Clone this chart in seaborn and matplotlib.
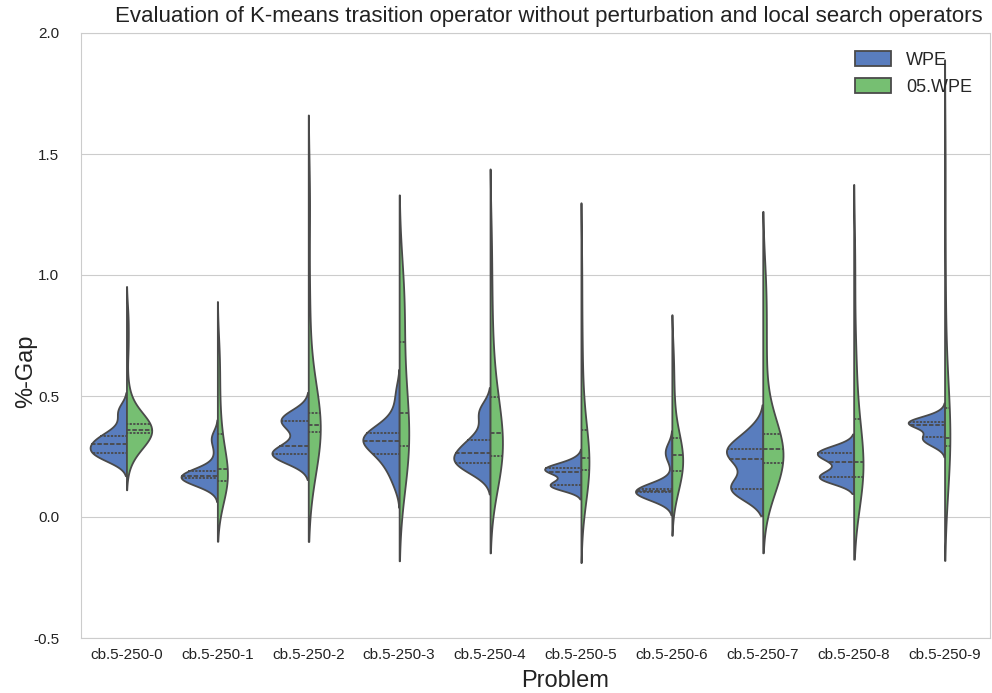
import numpy as np
import pandas as pd
import seaborn as sns
import matplotlib
matplotlib.use("Agg")
import matplotlib.pyplot as plt

problems = ["cb.5-250-0", "cb.5-250-1", "cb.5-250-2", "cb.5-250-3", "cb.5-250-4",
            "cb.5-250-5", "cb.5-250-6", "cb.5-250-7", "cb.5-250-8", "cb.5-250-9"]
methods = ["WPE", "05.WPE"]
colors = ["#4878CF", "#6ACC65"]

# %-Gap observations per problem, WPE runs
wpe_0 = [0.235, 0.242, 0.248, 0.253, 0.258, 0.262, 0.266, 0.272, 0.278, 0.285, 0.292, 0.298,
         0.304, 0.31, 0.316, 0.322, 0.328, 0.334, 0.34, 0.355, 0.38, 0.42, 0.44, 0.45]
wpe_1 = [0.125, 0.135, 0.145, 0.15, 0.155, 0.158, 0.161, 0.163, 0.164, 0.165, 0.166, 0.167,
         0.168, 0.17, 0.173, 0.177, 0.182, 0.188, 0.195, 0.21, 0.26, 0.31, 0.325, 0.34]
wpe_2 = [0.23, 0.245, 0.252, 0.256, 0.258, 0.26, 0.262, 0.264, 0.266, 0.268, 0.27, 0.275,
         0.31, 0.33, 0.36, 0.385, 0.393, 0.398, 0.40, 0.402, 0.405, 0.41, 0.42, 0.44]
wpe_3 = [0.13, 0.17, 0.2, 0.22, 0.24, 0.255, 0.262, 0.275, 0.295, 0.305, 0.31, 0.313,
         0.317, 0.322, 0.326, 0.33, 0.335, 0.345, 0.355, 0.365, 0.38, 0.40, 0.45, 0.52]
wpe_4 = [0.18, 0.195, 0.205, 0.212, 0.218, 0.222, 0.226, 0.232, 0.238, 0.245, 0.252, 0.26,
         0.27, 0.28, 0.29, 0.30, 0.31, 0.315, 0.33, 0.36, 0.41, 0.43, 0.44, 0.45]
wpe_5 = [0.115, 0.12, 0.125, 0.128, 0.13, 0.132, 0.134, 0.137, 0.14, 0.15, 0.17, 0.182,
         0.186, 0.19, 0.193, 0.196, 0.198, 0.2, 0.202, 0.205, 0.208, 0.215, 0.225, 0.24]
wpe_6 = [0.075, 0.085, 0.092, 0.097, 0.1, 0.101, 0.102, 0.103, 0.104, 0.105, 0.106, 0.107,
         0.108, 0.109, 0.11, 0.112, 0.114, 0.117, 0.12, 0.13, 0.24, 0.26, 0.275, 0.29]
wpe_7 = [0.1, 0.104, 0.108, 0.111, 0.113, 0.115, 0.118, 0.13, 0.15, 0.18, 0.21, 0.235,
         0.248, 0.255, 0.26, 0.265, 0.27, 0.278, 0.285, 0.295, 0.31, 0.33, 0.35, 0.37]
wpe_8 = [0.15, 0.155, 0.158, 0.161, 0.163, 0.164, 0.166, 0.168, 0.172, 0.18, 0.2, 0.22,
         0.232, 0.245, 0.252, 0.256, 0.26, 0.262, 0.265, 0.268, 0.272, 0.276, 0.282, 0.29]
wpe_9 = [0.29, 0.3, 0.31, 0.318, 0.322, 0.326, 0.33, 0.335, 0.345, 0.36, 0.37, 0.378,
         0.382, 0.385, 0.387, 0.389, 0.391, 0.393, 0.395, 0.397, 0.4, 0.405, 0.415, 0.43]

# %-Gap observations per problem, 05.WPE runs
wpe05_0 = [0.245, 0.28, 0.31, 0.33, 0.338, 0.344, 0.347, 0.35, 0.352, 0.354, 0.356, 0.358,
           0.36, 0.363, 0.367, 0.372, 0.378, 0.384, 0.39, 0.41, 0.45, 0.52, 0.7, 0.82]
wpe05_1 = [0.1, 0.11, 0.13, 0.14, 0.148, 0.158, 0.17, 0.182, 0.192,
           0.204, 0.22, 0.26, 0.32, 0.353, 0.42, 0.52, 0.62, 0.69]
wpe05_2 = [0.26, 0.3, 0.345, 0.352, 0.362, 0.376, 0.384, 0.4, 0.42, 0.452, 0.85, 1.3]
wpe05_3 = [0.15, 0.18, 0.24, 0.285, 0.32, 0.37, 0.41, 0.446, 0.52, 0.62, 0.76, 0.84, 0.92, 1.0]
wpe05_4 = [0.14, 0.17, 0.18, 0.205, 0.228, 0.252, 0.268, 0.285, 0.305, 0.325, 0.348,
           0.37, 0.39, 0.42, 0.46, 0.496, 0.56, 0.65, 0.78, 0.95, 1.15]
wpe05_5 = [0.09, 0.12, 0.155, 0.18, 0.194, 0.208, 0.22, 0.232, 0.242,
           0.258, 0.28, 0.315, 0.359, 0.45, 0.58, 0.76, 1.02]
wpe05_6 = [0.1, 0.13, 0.165, 0.185, 0.197, 0.22, 0.24, 0.256, 0.27, 0.29, 0.315, 0.335, 0.42, 0.53, 0.66]
wpe05_7 = [0.125, 0.17, 0.19, 0.205, 0.22, 0.236, 0.25, 0.262, 0.274,
           0.292, 0.305, 0.318, 0.33, 0.345, 0.55, 0.7, 0.85, 0.99]
wpe05_8 = [0.15, 0.155, 0.16, 0.166, 0.185, 0.205, 0.226, 0.26, 0.32, 0.407, 0.56, 0.7, 1.05]
wpe05_9 = [0.25, 0.265, 0.28, 0.293, 0.305, 0.316, 0.327, 0.36, 0.41, 0.451, 0.68, 1.0, 1.46]

wpe_runs = [wpe_0, wpe_1, wpe_2, wpe_3, wpe_4, wpe_5, wpe_6, wpe_7, wpe_8, wpe_9]
wpe05_runs = [wpe05_0, wpe05_1, wpe05_2, wpe05_3, wpe05_4, wpe05_5, wpe05_6, wpe05_7, wpe05_8, wpe05_9]

rows = []
for prob, a, b in zip(problems, wpe_runs, wpe05_runs):
    rows += [(prob, methods[0], v) for v in a]
    rows += [(prob, methods[1], v) for v in b]
df = pd.DataFrame(rows, columns=["Problem", "Method", "Gap"])

sns.set_style("whitegrid")
plt.rcParams["font.family"] = ["Liberation Sans", "DejaVu Sans"]
plt.rcParams["axes.unicode_minus"] = False

fig = plt.figure(figsize=(9.92, 6.93), dpi=100)
ax = fig.add_axes([81 / 992, 1 - 638 / 693, (990 - 81) / 992, (638 - 33) / 693])

# one call per problem so each pair of halves is scaled within its own problem
for i, prob in enumerate(problems):
    sns.violinplot(data=df[df["Problem"] == prob], x="Problem", y="Gap", hue="Method",
                   order=problems, hue_order=methods, palette=colors, split=True,
                   inner="quart", density_norm="area", common_norm=True,
                   linecolor="#4a4a4a", linewidth=1.3, legend=(i == 0), ax=ax)

ax.set_ylim(-0.5, 2.0)
ax.set_xlim(-0.5, 9.5)
ax.set_yticks([-0.5, 0.0, 0.5, 1.0, 1.5, 2.0])
ax.tick_params(axis="both", labelsize=11, colors="#222222")
ax.tick_params(axis="y", pad=12)
ax.set_xlabel("Problem", fontsize=17, color="#222222")
ax.set_ylabel("%-Gap", fontsize=17, color="#222222")
ax.xaxis.set_label_coords(0.532, -0.053)
ax.yaxis.set_label_coords(-0.048, 0.44)
ax.set_title("Evaluation of K-means trasition operator without perturbation and local search operators",
             fontsize=16, pad=8, color="#222222", x=0.515)
ax.legend(loc="upper right", frameon=False, fontsize=13, title=None,
          handlelength=2.0, handleheight=0.9, borderaxespad=0.6)

fig.savefig("out.png", dpi=100)
